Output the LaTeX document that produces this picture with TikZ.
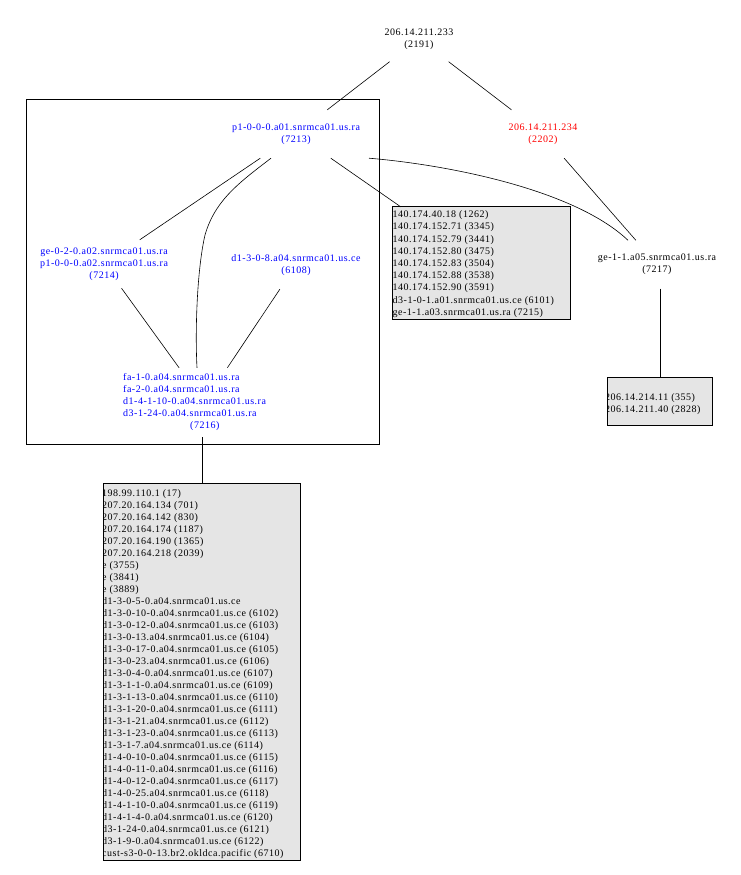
\documentclass[tikz,border=0pt]{standalone}
\usepackage{fontspec}
\setmainfont{Liberation Serif}[LetterSpace=5]
\definecolor{nblue}{RGB}{0,0,255}
\definecolor{nred}{RGB}{255,0,0}
\definecolor{boxgray}{RGB}{229,229,229}
\begin{document}
\begin{tikzpicture}[x=1pt,y=-1pt,
  every node/.style={font=\fontsize{10}{12}\selectfont},
  lbl/.style={rectangle, inner xsep=8pt, inner ysep=0pt, minimum height=48pt, align=center},
  edge/.style={line width=0.6pt},
  vedge/.style={line width=1pt},
  gbox/.style={fill=boxgray, inner sep=0pt},
  border/.style={draw, line width=0.8pt},
  boxtxt/.style={anchor=base west, inner sep=0pt}
]
\useasboundingbox (0,0) rectangle (740,875);

% cluster
\draw[border] (26,99) rectangle (379,444);

% nodes
\node[lbl, minimum height=45pt] (n2191) at (419,39) {206.14.211.233\\(2191)};
\node[lbl, text=nblue] (n7213) at (296,134) {p1-0-0-0.a01.snrmca01.us.ra\\(7213)};
\node[lbl, text=nred] (n2202) at (543,134) {206.14.211.234\\(2202)};
\node[lbl, text=nblue] (n7214) at (104,264) {ge-0-2-0.a02.snrmca01.us.ra\\p1-0-0-0.a02.snrmca01.us.ra\\(7214)};
\node[lbl, text=nblue] (n6108) at (296,265) {d1-3-0-8.a04.snrmca01.us.ce\\(6108)};
\node[lbl, text=nblue, align=left, inner xsep=0pt, text width=162pt, minimum height=69pt, anchor=west] (n7216) at (123,402.5)
  {fa-1-0.a04.snrmca01.us.ra\\fa-2-0.a04.snrmca01.us.ra\\d1-4-1-10-0.a04.snrmca01.us.ra\\d3-1-24-0.a04.snrmca01.us.ra\\\hspace*{67pt}(7216)};
\node[lbl] (n7217) at (657,264.5) {ge-1-1.a05.snrmca01.us.ra\\(7217)};

% gray boxes
\node[gbox, minimum width=177pt, minimum height=112pt] (b1) at (481.5,263) {};
\node[gbox, minimum width=196pt, minimum height=376pt] (b2) at (202,672) {};
\node[gbox, minimum width=104pt, minimum height=47pt] (b3) at (660,401.5) {};

\begin{scope}
\clip (b1.north west) rectangle (b1.south east);
\foreach \t [count=\i] in {140.174.40.18 (1262),140.174.152.71 (3345),140.174.152.79 (3441),140.174.152.80 (3475),140.174.152.83 (3504),140.174.152.88 (3538),140.174.152.90 (3591),d3-1-0-1.a01.snrmca01.us.ce (6101),ge-1-1.a03.snrmca01.us.ra (7215)}
  \node[boxtxt] (b1t\i) at (392.5,{217.7+12.2*(\i-1)}) {\t};
\end{scope}
\draw[border] (b1.north west) rectangle (b1.south east);

\begin{scope}
\clip (b2.north west) rectangle (b2.south east);
\foreach \t [count=\i] in {198.99.110.1 (17),207.20.164.134 (701),207.20.164.142 (830),207.20.164.174 (1187),207.20.164.190 (1365),207.20.164.218 (2039),e (3755),e (3841),e (3889),d1-3-0-5-0.a04.snrmca01.us.ce,d1-3-0-10-0.a04.snrmca01.us.ce (6102),d1-3-0-12-0.a04.snrmca01.us.ce (6103),d1-3-0-13.a04.snrmca01.us.ce (6104),d1-3-0-17-0.a04.snrmca01.us.ce (6105),d1-3-0-23.a04.snrmca01.us.ce (6106),d1-3-0-4-0.a04.snrmca01.us.ce (6107),d1-3-1-1-0.a04.snrmca01.us.ce (6109),d1-3-1-13-0.a04.snrmca01.us.ce (6110),d1-3-1-20-0.a04.snrmca01.us.ce (6111),d1-3-1-21.a04.snrmca01.us.ce (6112),d1-3-1-23-0.a04.snrmca01.us.ce (6113),d1-3-1-7.a04.snrmca01.us.ce (6114),d1-4-0-10-0.a04.snrmca01.us.ce (6115),d1-4-0-11-0.a04.snrmca01.us.ce (6116),d1-4-0-12-0.a04.snrmca01.us.ce (6117),d1-4-0-25.a04.snrmca01.us.ce (6118),d1-4-1-10-0.a04.snrmca01.us.ce (6119),d1-4-1-4-0.a04.snrmca01.us.ce (6120),d3-1-24-0.a04.snrmca01.us.ce (6121),d3-1-9-0.a04.snrmca01.us.ce (6122),cust-s3-0-0-13.br2.okldca.pacific (6710)}
  \node[boxtxt] (b2t\i) at (102,{496.5+12*(\i-1)}) {\t};
\end{scope}
\draw[border] (b2.north west) rectangle (b2.south east);

\begin{scope}
\clip (b3.north west) rectangle (b3.south east);
\node[boxtxt] (b3t1) at (605,400.5) {206.14.214.11 (355)};
\node[boxtxt] (b3t2) at (605,412.5) {206.14.211.40 (2828)};
\end{scope}
\draw[border] (b3.north west) rectangle (b3.south east);

% edges
\draw[edge] (n2191) -- (n7213);
\draw[edge] (n2191) -- (n2202);
\draw[edge] (n7213) -- (n7214);
\draw[edge] ([xshift=-25pt]n7213.south) .. controls (240,182) and (215,200) .. (205,235)
  .. controls (197,270) and (195,330) .. (197,0 |- n7216.north);
\draw[edge] (n7213) -- (b1);
\draw[edge] ([xshift=73pt]n7213.south) .. controls (450,165) and (575,190) .. ([xshift=-29pt]n7217.north);
\draw[edge] (n2202) -- (n7217);
\draw[edge] (n7214) -- (n7216);
\draw[edge] (n6108) -- (n7216);
\draw[vedge] (b2.north |- n7216.south) -- (b2.north);
\draw[vedge] (b3.north |- n7217.south) -- (b3.north);
\end{tikzpicture}
\end{document}
